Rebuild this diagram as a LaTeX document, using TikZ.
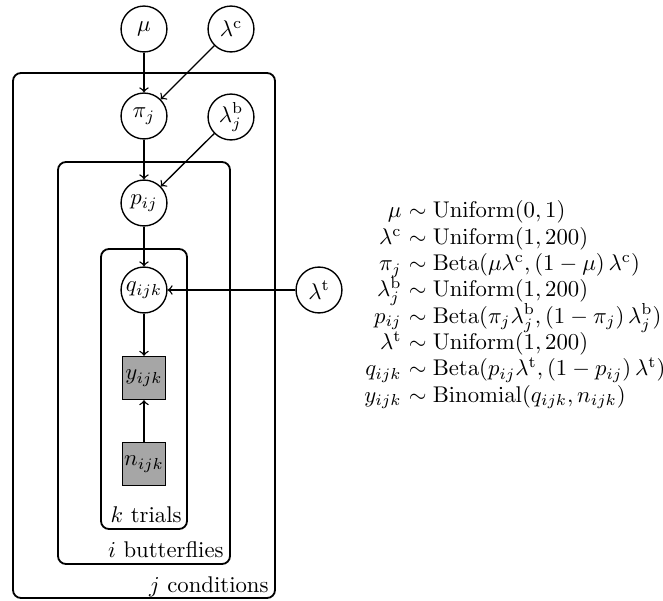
\documentclass[tikz,border=0pt]{standalone}
\usepackage{amsmath,amsfonts,amssymb}
\usepackage{tikz}

\tikzset{
  latent/.style={circle, draw, semithick, minimum size=20.2pt, inner sep=0pt},
  observed/.style={rectangle, draw, semithick, fill=black!35, minimum size=18.9pt, inner sep=0pt},
  plate/.style={draw, thick, rounded corners=3.5pt},
  platelabel/.style={anchor=base east, inner sep=0pt},
  edge/.style={->, semithick},
}

\begin{document}
\begin{tikzpicture}[x=0.44pt, y=-0.44pt]
\useasboundingbox (0,0) rectangle (663,601);
\draw[plate] (13,73) rectangle (275,598);
\draw[plate] (58,162) rectangle (230,564);
\draw[plate] (101,249) rectangle (187,529);
\node[platelabel] (trials) at (182,522) {$k$ trials};
\node[platelabel] (butterflies) at (224,557) {$i$ butterflies};
\node[platelabel] (conditions) at (269,592) {$j$ conditions};

\node[latent] (mu) at (144,29) {$\mu$};
\node[latent] (lc) at (231,29) {$\lambda^{\mathrm{c}}$};
\node[latent] (pi) at (144,116) {$\pi_j$};
\node[latent] (lb) at (231,117) {$\lambda^{\mathrm{b}}_j$};
\node[latent] (p) at (144,203) {$p_{ij}$};
\node[latent] (q) at (144,290) {$q_{ijk}$};
\node[latent] (lt) at (319,290) {$\lambda^{\mathrm{t}}$};
\node[observed] (y) at (144,378) {$y_{ijk}$};
\node[observed] (n) at (144,464) {$n_{ijk}$};

\draw[edge] (mu) -- (pi);
\draw[edge] (lc) -- (pi);
\draw[edge] (pi) -- (p);
\draw[edge] (lb) -- (p);
\draw[edge] (p) -- (q);
\draw[edge] (lt) -- (q);
\draw[edge] (q) -- (y);
\draw[edge] (n) -- (y);

\foreach \lhs/\rhs [count=\i] in {
  {\mu}/{\mathrm{Uniform}(0,1)},
  {\lambda^{\mathrm{c}}}/{\mathrm{Uniform}(1,200)},
  {\pi_j}/{\mathrm{Beta}(\mu\lambda^{\mathrm{c}},(1-\mu)\,\lambda^{\mathrm{c}})},
  {\lambda^{\mathrm{b}}_j}/{\mathrm{Uniform}(1,200)},
  {p_{ij}}/{\mathrm{Beta}(\pi_j\lambda^{\mathrm{b}}_j,(1-\pi_j)\,\lambda^{\mathrm{b}}_j)},
  {\lambda^{\mathrm{t}}}/{\mathrm{Uniform}(1,200)},
  {q_{ijk}}/{\mathrm{Beta}(p_{ij}\lambda^{\mathrm{t}},(1-p_{ij})\,\lambda^{\mathrm{t}})},
  {y_{ijk}}/{\mathrm{Binomial}(q_{ijk},n_{ijk})}}
{
  \node[anchor=base east, inner sep=0pt] (lhs\i) at (402,218+26.3*\i-26.3) {$\lhs$};
  \node[anchor=base west, inner sep=0pt] (rhs\i) at (402,218+26.3*\i-26.3) {${}\sim\rhs$};
}
\end{tikzpicture}
\end{document}
